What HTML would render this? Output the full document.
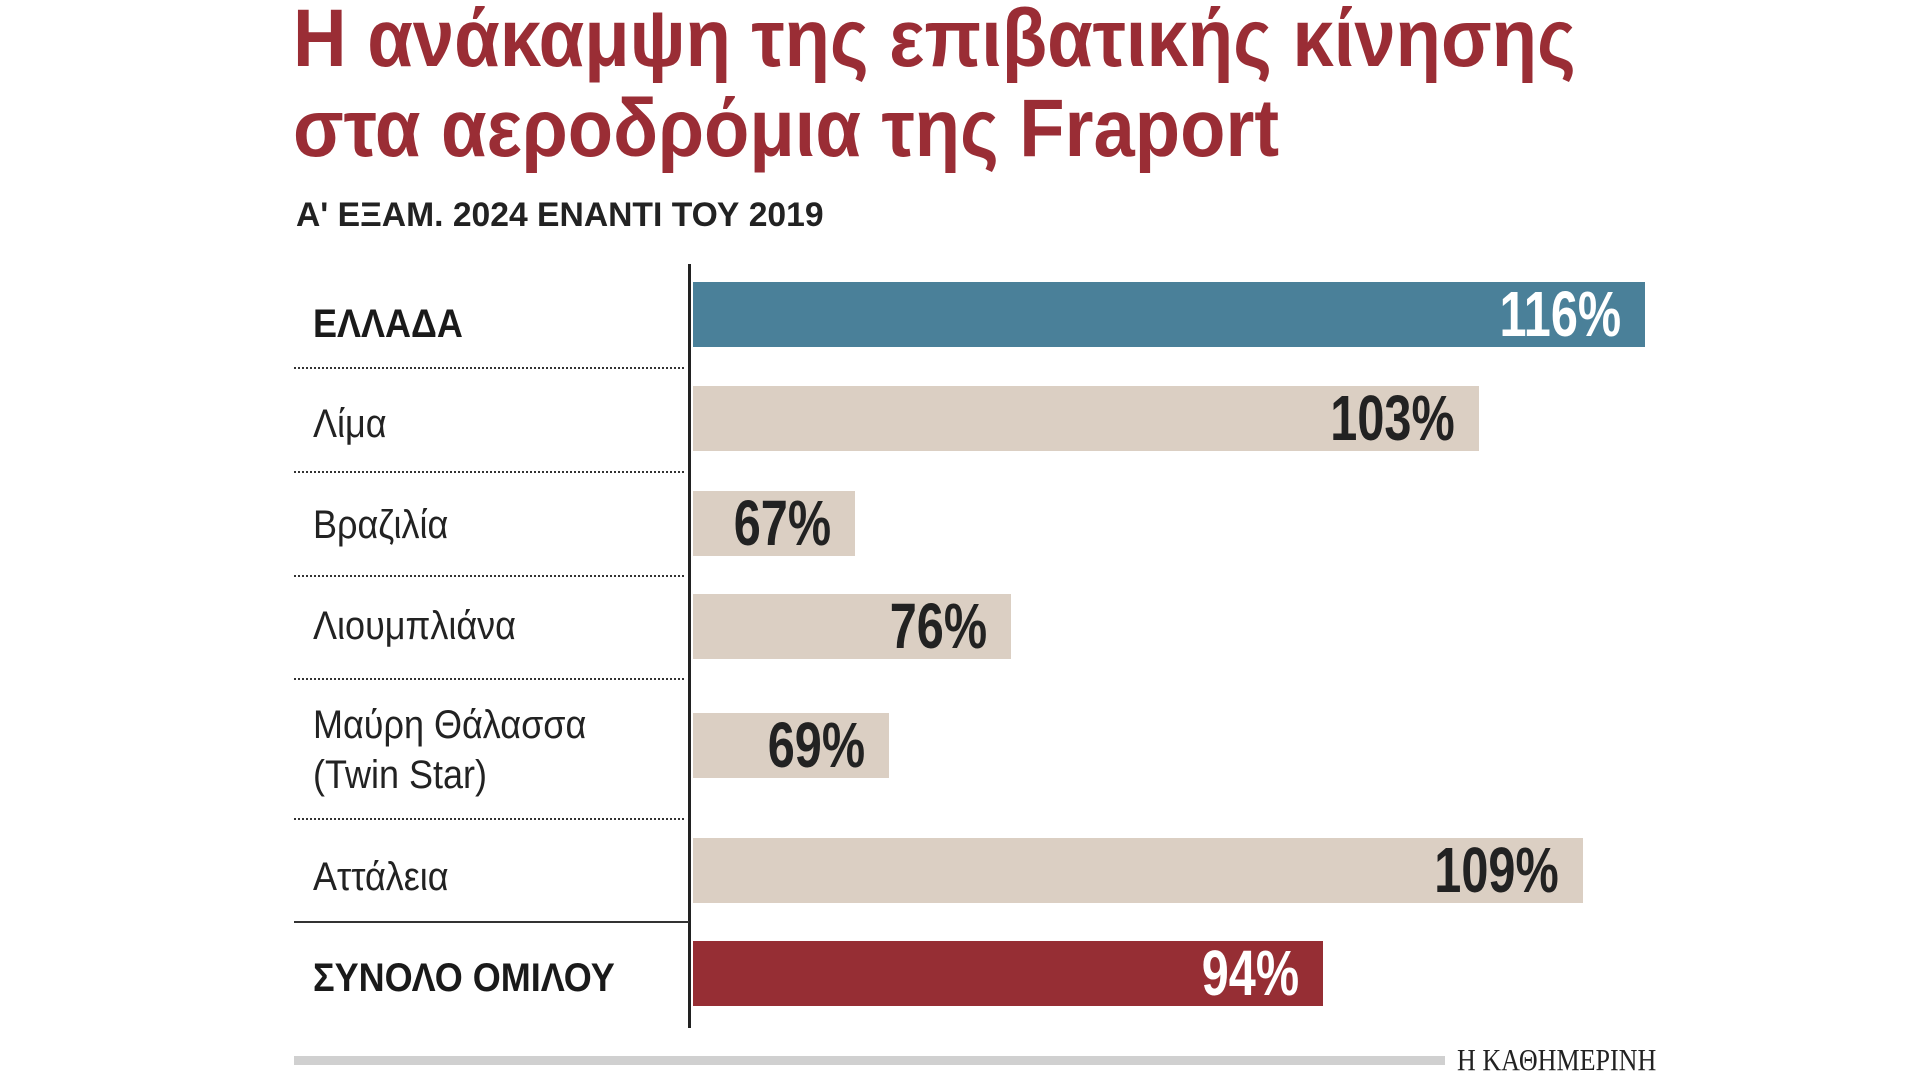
<!DOCTYPE html>
<html><head><meta charset="utf-8"><style>
body{margin:0;width:1920px;height:1080px;background:#fff;position:relative;overflow:hidden;font-family:"Liberation Sans","DejaVu Sans",sans-serif}
.a{position:absolute;white-space:nowrap}
.t{left:293px;color:#9a2d35;font-weight:bold;font-size:82px;transform:scaleX(.905);transform-origin:left}
.lab{left:313px;font-size:40px;color:#222;transform:scaleX(.9);transform-origin:left;line-height:50px}
.bar{position:absolute;left:693px;height:65px}
.v{position:absolute;right:24px;top:0;line-height:65px;font-size:64px;font-weight:bold;color:#222;transform:scaleX(.76);transform-origin:right}
.dot{position:absolute;left:294px;width:390px;border-top:2px dotted #333}
</style></head><body>
<div class="a t" style="top:-8px">Η ανάκαμψη της επιβατικής κίνησης</div>
<div class="a t" style="top:82px">στα αεροδρόμια της Fraport</div>
<div class="a" style="left:296px;top:196px;font-size:34px;font-weight:bold;color:#222;transform:scaleX(.99);transform-origin:left">Α' ΕΞΑΜ. 2024 ΕΝΑΝΤΙ ΤΟΥ 2019</div>
<div class="a" style="left:688px;top:264px;width:3px;height:764px;background:#222"></div>

<div class="bar" style="top:282px;width:952px;background:#4a8099"><span class="v" style="color:#fff">116%</span></div>
<div class="bar" style="top:386px;width:786px;background:#dbcfc3"><span class="v">103%</span></div>
<div class="bar" style="top:491px;width:162px;background:#dbcfc3"><span class="v">67%</span></div>
<div class="bar" style="top:594px;width:318px;background:#dbcfc3"><span class="v">76%</span></div>
<div class="bar" style="top:713px;width:196px;background:#dbcfc3"><span class="v">69%</span></div>
<div class="bar" style="top:838px;width:890px;background:#dbcfc3"><span class="v">109%</span></div>
<div class="bar" style="top:941px;width:630px;background:#962e34"><span class="v" style="color:#fff">94%</span></div>

<div class="a lab" style="top:299px;font-weight:bold;color:#1a1a1a">ΕΛΛΑΔΑ</div>
<div class="a lab" style="top:399px">Λίμα</div>
<div class="a lab" style="top:500px">Βραζιλία</div>
<div class="a lab" style="top:601px">Λιουμπλιάνα</div>
<div class="a lab" style="top:700px">Μαύρη Θάλασσα<br>(Twin Star)</div>
<div class="a lab" style="top:852px">Αττάλεια</div>
<div class="a lab" style="top:953px;font-weight:bold;color:#1a1a1a">ΣΥΝΟΛΟ ΟΜΙΛΟΥ</div>

<div class="dot" style="top:367px"></div>
<div class="dot" style="top:471px"></div>
<div class="dot" style="top:575px"></div>
<div class="dot" style="top:678px"></div>
<div class="dot" style="top:818px"></div>
<div class="a" style="left:294px;top:921px;width:395px;height:2px;background:#333"></div>

<div class="a" style="left:294px;top:1056px;width:1151px;height:9px;background:#d0d0d0"></div>
<div class="a" style="left:1457px;top:1042px;font-family:'Liberation Serif',serif;font-size:31px;color:#222;transform:scaleX(.84);transform-origin:left">Η ΚΑΘΗΜΕΡΙΝΗ</div>
</body></html>
